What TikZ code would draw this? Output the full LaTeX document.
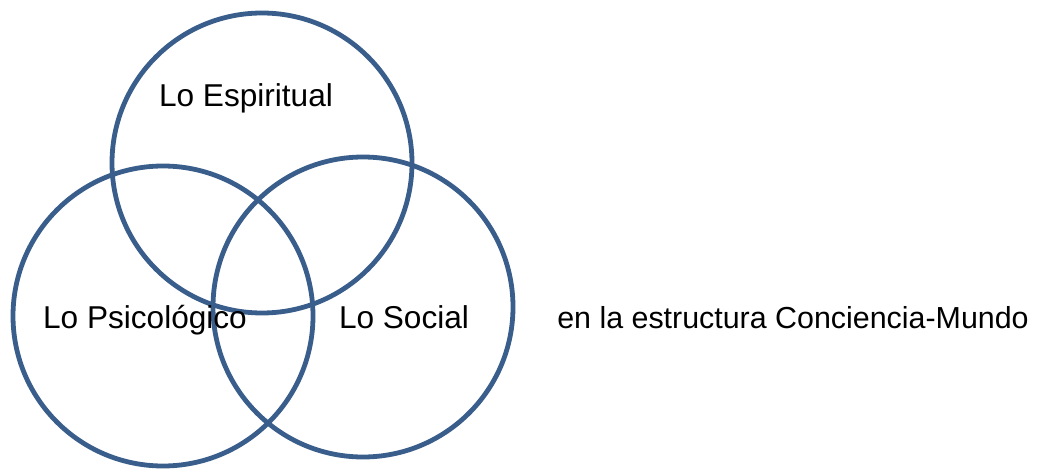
\documentclass[tikz,border=0pt]{standalone}
\usepackage{fontspec}
\setmainfont{Liberation Sans}
\definecolor{ringblue}{RGB}{58,94,139}
\providecommand{\labelfontsize}{\fontsize{23.7pt}{28pt}\selectfont}
\providecommand{\notefontsize}{\fontsize{22.8pt}{27pt}\selectfont}

\begin{document}
\begin{tikzpicture}[x=0.75pt,y=-0.75pt]
    \tikzset{ring/.style={draw=ringblue,line width=3.6pt},
             lbl/.style={anchor=base,inner sep=0,font=\labelfontsize}}
    \pgfmathsetmacro{\ringradius}{150}
    \useasboundingbox (0,0) rectangle (1059,470);
    % the three circles
    \draw[ring] (262,163) circle (\ringradius);
    \draw[ring] (163,316) circle (\ringradius);
    \draw[ring] (363,307) circle (\ringradius);
    % labels
    \node[lbl] (espiritual) at (246,107) {Lo Espiritual};
    \node[lbl] (psicologico) at (145,328) {Lo Psicológico};
    \node[lbl] (social) at (404,328) {Lo Social};
    \node[lbl,font=\notefontsize] (estructura) at (793,328) {en la estructura Conciencia-Mundo};
\end{tikzpicture}
\end{document}
